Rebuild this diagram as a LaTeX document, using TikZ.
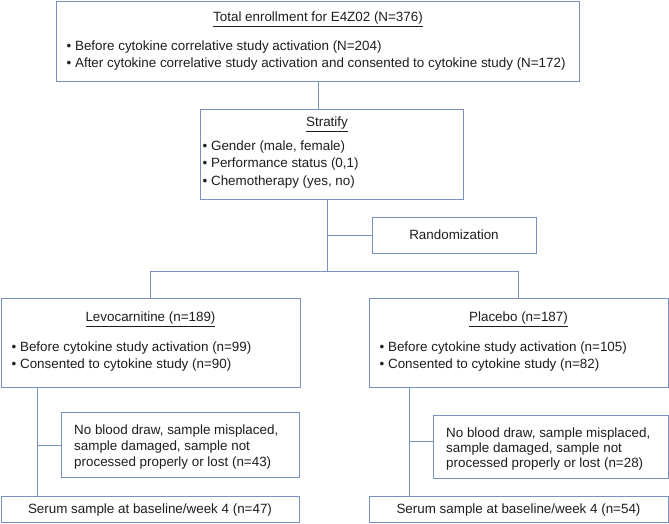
\documentclass[tikz,border=0pt]{standalone}
\usepackage{fontspec}
\setmainfont{Liberation Sans}
\definecolor{boxline}{RGB}{120,146,192}
\definecolor{txt}{RGB}{30,30,30}
\tikzset{
  box/.style={draw=boxline, line width=1pt, fill=white, inner sep=0pt, anchor=north west},
  conn/.style={draw=boxline, line width=1pt},
  tl/.style={inner sep=0pt, anchor=base west, text=txt, font=\fontsize{13.4}{17}\selectfont},
  tc/.style={inner sep=0pt, anchor=base, text=txt, font=\fontsize{13.4}{17}\selectfont},
}
\begin{document}
\begin{tikzpicture}[x=1pt,y=-1pt]
\useasboundingbox (0,0) rectangle (669,523);
% boxes
\node[box, minimum width=523pt, minimum height=80pt] (top) at (56,1) {};
\node[box, minimum width=263pt, minimum height=90pt] (strat) at (200,109) {};
\node[box, minimum width=164pt, minimum height=36pt] (rand) at (372,217) {};
\node[box, minimum width=299pt, minimum height=89pt] (levo) at (1,298) {};
\node[box, minimum width=299pt, minimum height=89pt] (plac) at (369,298) {};
\node[box, minimum width=238pt, minimum height=65pt] (lex) at (61,412) {};
\node[box, minimum width=235pt, minimum height=63pt] (rex) at (433,415) {};
\node[box, minimum width=298pt, minimum height=26pt] (lser) at (1,496) {};
\node[box, minimum width=299pt, minimum height=26pt] (rser) at (369,496) {};
% junction coordinates
\coordinate (js) at (327,271);
\coordinate (jl) at (150,271);
\coordinate (jr) at (518,271);
\coordinate (jrand) at (327,235);
\coordinate (vl) at (37,445);
\coordinate (vr) at (409,441);
% connectors
\draw[conn] (top.south) -- (top.south |- strat.north);
\draw[conn] (strat.south -| js) -- (js);
\draw[conn] (jrand) -- (jrand -| rand.west);
\draw[conn] (jl) -- (jr);
\draw[conn] (jl) -- (jl |- levo.north);
\draw[conn] (jr) -- (jr |- plac.north);
\draw[conn] (levo.south -| vl) -- (vl |- lser.north);
\draw[conn] (vl) -- (vl -| lex.west);
\draw[conn] (plac.south -| vr) -- (vr |- rser.north);
\draw[conn] (vr) -- (vr -| rex.west);
% texts: top
\node[tc] (t0) at (318,21.7) {\underline{Total enrollment for E4Z02 (N=376)}};
\node[tl] (t1) at (66.5,50.7) {• Before cytokine correlative study activation (N=204)};
\node[tl] (t2) at (66.5,67.7) {• After cytokine correlative study activation and consented to cytokine study (N=172)};
% stratify
\node[tc] (s0) at (327,126.7) {\underline{Stratify}};
\node[tl] (s1) at (202.5,150.7) {• Gender (male, female)};
\node[tl] (s2) at (202.5,167.7) {• Performance status (0,1)};
\node[tl] (s3) at (202.5,185.2) {• Chemotherapy (yes, no)};
% randomization
\node[tc] (r0) at (454,239.7) {Randomization};
% levocarnitine
\node[tc] (l0) at (150.5,321.7) {\underline{Levocarnitine (n=189)}};
\node[tl] (l1) at (11.5,351.7) {• Before cytokine study activation (n=99)};
\node[tl] (l2) at (11.5,368.7) {• Consented to cytokine study (n=90)};
% placebo
\node[tc] (p0) at (518.5,321.7) {\underline{Placebo (n=187)}};
\node[tl] (p1) at (379.5,351.7) {• Before cytokine study activation (n=105)};
\node[tl] (p2) at (379.5,368.7) {• Consented to cytokine study (n=82)};
% exclusions
\node[tl] (e1) at (74,434.7) {No blood draw, sample misplaced,};
\node[tl] (e2) at (74,450.7) {sample damaged, sample not};
\node[tl] (e3) at (74,466.7) {processed properly or lost (n=43)};
\node[tl] (f1) at (446,437.7) {No blood draw, sample misplaced,};
\node[tl] (f2) at (446,452.7) {sample damaged, sample not};
\node[tl] (f3) at (446,467.7) {processed properly or lost (n=28)};
% serum
\node[tc] (g1) at (150,513.7) {Serum sample at baseline/week 4 (n=47)};
\node[tc] (g2) at (518.5,513.7) {Serum sample at baseline/week 4 (n=54)};
\end{tikzpicture}
\end{document}
